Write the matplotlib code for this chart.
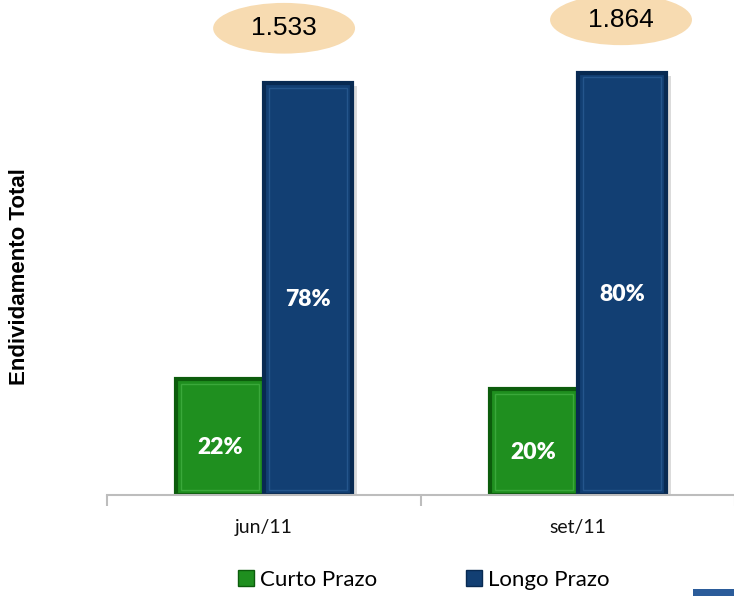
import matplotlib
matplotlib.use('Agg')
import matplotlib.pyplot as plt
from matplotlib.patches import Ellipse, Rectangle, Patch
import numpy as np

# data
periods = ['jun/11', 'set/11']
curto_pct = [22, 20]
longo_pct = [78, 80]
totals = ['1.533', '1.864']
series_names = ['Curto Prazo', 'Longo Prazo']
ylabel = 'Endividamento Total'

calib = ['Lato', 'DejaVu Sans']
arial = ['Liberation Sans', 'DejaVu Sans']

green, green_dk, green_lt = '#1f8f1f', '#0c5c0c', '#3aa83a'
blue, blue_dk, blue_lt = '#123f73', '#082a52', '#24558c'

fig = plt.figure(figsize=(7.34, 5.96), dpi=100)
ax = fig.add_axes([107/734, 101/596, 628/734, 495/596])

x = np.arange(len(periods))
w = 0.28
off = 0.141

# soft drop shadow behind the bars
ax.bar(x - off + 0.014, curto_pct, w, bottom=-0.6, color='#9a9a9a', alpha=0.35, zorder=1)
ax.bar(x + off + 0.014, longo_pct, w, bottom=-0.6, color='#9a9a9a', alpha=0.35, zorder=1)

ax.bar(x - off, curto_pct, w, color=green, edgecolor=green_dk, linewidth=3, zorder=2)
ax.bar(x + off, longo_pct, w, color=blue, edgecolor=blue_dk, linewidth=3, zorder=2)
# inner bevel
dx, dy = 0.016, 0.9
ax.bar(x - off, np.array(curto_pct) - 2*dy, w - 2*dx, bottom=dy, color=green,
       edgecolor=green_lt, linewidth=1, zorder=2.5)
ax.bar(x + off, np.array(longo_pct) - 2*dy, w - 2*dx, bottom=dy, color=blue,
       edgecolor=blue_lt, linewidth=1, zorder=2.5)

for xi, v in zip(x - off, curto_pct):
    ax.text(xi, v/2 - 2, f'{v}%', ha='center', va='center', color='white',
            fontsize=16.5, fontweight='heavy', family=calib, zorder=3)
for xi, v in zip(x + off, longo_pct):
    ax.text(xi, v/2 - 2, f'{v}%', ha='center', va='center', color='white',
            fontsize=16.5, fontweight='heavy', family=calib, zorder=3)

# totals in peach ellipses above each group
ell_dx = [0.064, 0.137]
ell_y = [88.4, 90.0]
for i, t in enumerate(totals):
    cx = x[i] + ell_dx[i]
    e = Ellipse((cx, ell_y[i]), 0.452, 9.6, facecolor='#f7dbb1', edgecolor='none',
                clip_on=False, zorder=4)
    ax.add_patch(e)
    ax.text(cx, ell_y[i], t, ha='center', va='center', fontsize=19, family=arial,
            color='black', zorder=5, clip_on=False)

ax.set_xlim(-0.5, 1.5)
ax.set_ylim(0, 93.75)
ax.set_yticks([])
for s in ['top', 'right', 'left']:
    ax.spines[s].set_visible(False)
ax.spines['bottom'].set_color('#bdbdbd')
ax.spines['bottom'].set_linewidth(1.5)

ax.set_xticks(x)
ax.set_xticklabels(periods, fontsize=14, family=calib, color='#111111')
ax.tick_params(axis='x', which='major', length=0, pad=17)
ax.set_xticks([-0.5, 0.5, 1.5], minor=True)
ax.tick_params(axis='x', which='minor', length=8, width=1.5, color='#bdbdbd')

fig.text(20/734, 1 - 277/596, ylabel, rotation=90, ha='center', va='center',
         fontsize=16, fontweight='bold', family=arial)

handles = [Patch(facecolor=green, edgecolor=green_dk, linewidth=1),
           Patch(facecolor=blue, edgecolor=blue_dk, linewidth=1)]
leg = fig.legend(handles, series_names, loc='center', bbox_to_anchor=(424/734, 1 - 580/596),
                 ncol=2, frameon=False, prop={'family': calib, 'size': 16},
                 handlelength=0.7, handleheight=0.7, handletextpad=0.3, columnspacing=4.0)

# small blue corner at bottom right
fig.patches.append(Rectangle((693/734, 0), 41/734, 7/596, transform=fig.transFigure,
                             facecolor='#2b5c9a', edgecolor='none'))

fig.savefig('out.png', dpi=100)
